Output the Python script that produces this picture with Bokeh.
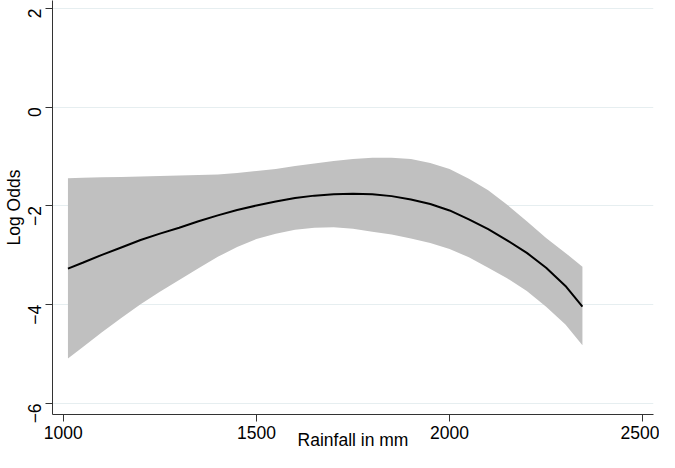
import math
from bokeh.plotting import figure
from bokeh.models import Range1d, FixedTicker, ColumnDataSource
from bokeh.embed import file_html
from bokeh.resources import INLINE

# Data
rainfall = [1012, 1050, 1100, 1150, 1200, 1250, 1300, 1350, 1400, 1450, 1500,
            1550, 1600, 1650, 1700, 1750, 1800, 1850, 1900, 1950, 2000,
            2050, 2100, 2150, 2200, 2250, 2300, 2344]
log_odds = [-3.27, -3.15, -2.99, -2.84, -2.69, -2.56, -2.44, -2.31, -2.19, -2.08, -1.99,
            -1.91, -1.84, -1.79, -1.76, -1.75, -1.76, -1.80, -1.87, -1.96, -2.09,
            -2.27, -2.47, -2.70, -2.95, -3.25, -3.62, -4.04]
ci_upper = [-1.44, -1.43, -1.42, -1.41, -1.40, -1.39, -1.38, -1.37, -1.36, -1.33, -1.29,
            -1.25, -1.19, -1.14, -1.09, -1.05, -1.02, -1.02, -1.05, -1.13, -1.25,
            -1.45, -1.68, -1.98, -2.31, -2.65, -2.95, -3.23]
ci_lower = [-5.09, -4.86, -4.56, -4.27, -3.99, -3.74, -3.50, -3.26, -3.03, -2.83, -2.67,
            -2.56, -2.48, -2.44, -2.43, -2.46, -2.52, -2.58, -2.66, -2.75, -2.87,
            -3.04, -3.25, -3.47, -3.72, -4.04, -4.40, -4.82]

x_ticks = [1000, 1500, 2000, 2500]
y_ticks = [-6, -4, -2, 0, 2]
x_title = "Rainfall in mm"
y_title = "Log Odds"

src = ColumnDataSource(dict(x=rainfall, y=log_odds, lo=ci_lower, hi=ci_upper))

FONT = "Liberation Sans"
FS = "17.5px"

p = figure(width=659, height=452, output_backend="svg", toolbar_location=None,
           x_range=Range1d(972, 2528), y_range=Range1d(-6.225, 2.164),
           min_border_top=0, min_border_bottom=0, min_border_left=0, min_border_right=6,
           background_fill_color="white", border_fill_color="white")
p.outline_line_color = None

p.varea(x="x", y1="lo", y2="hi", source=src, fill_color="#c0c0c0", fill_alpha=1.0)
p.line(x="x", y="y", source=src, line_color="black", line_width=2)

# grid
p.xgrid.grid_line_color = None
p.ygrid.grid_line_color = "#e6eef0"
p.ygrid.grid_line_width = 1
p.ygrid.ticker = FixedTicker(ticks=y_ticks)

for ax in (p.xaxis[0], p.yaxis[0]):
    ax.axis_line_color = "#333333"
    ax.axis_line_width = 1
    ax.major_tick_line_color = "#333333"
    ax.major_tick_out = 7
    ax.major_tick_in = 0
    ax.minor_tick_line_color = None
    ax.major_label_text_font = FONT
    ax.major_label_text_font_size = FS
    ax.major_label_text_color = "black"
    ax.axis_label_text_font = FONT
    ax.axis_label_text_font_size = FS
    ax.axis_label_text_font_style = "normal"
    ax.axis_label_text_color = "black"

p.xaxis.ticker = FixedTicker(ticks=x_ticks)
p.yaxis.ticker = FixedTicker(ticks=y_ticks)
p.xaxis.axis_label = x_title
p.yaxis.axis_label = y_title
p.yaxis.major_label_orientation = math.pi / 2
p.xaxis.major_label_standoff = 4
p.xaxis.axis_label_standoff = -12
p.yaxis.major_label_standoff = 11
p.yaxis.axis_label_standoff = -5

open("out.html", "w").write(file_html(p, INLINE))
